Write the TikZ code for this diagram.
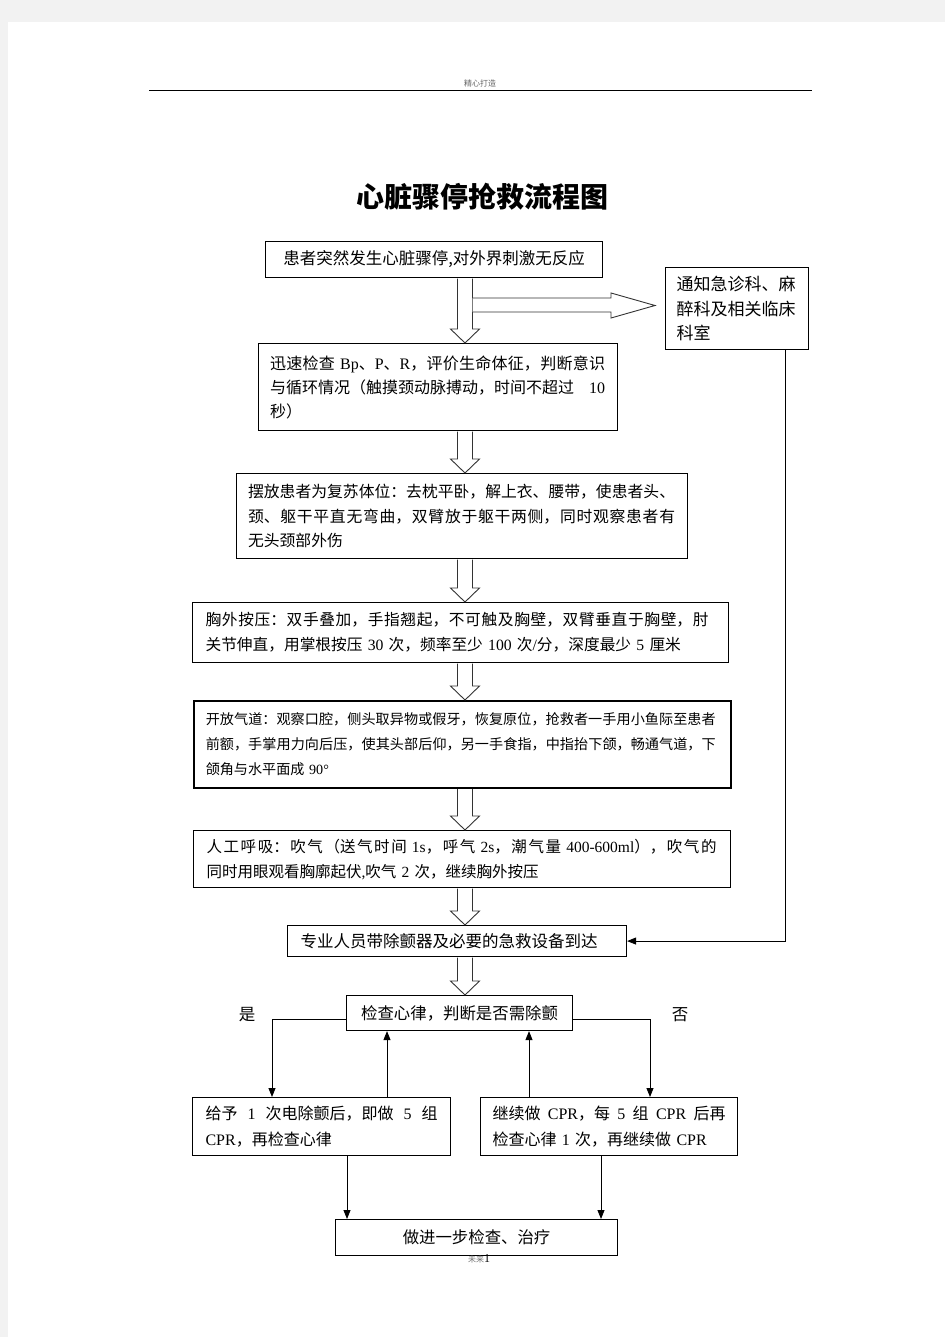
\documentclass[tikz,border=0pt]{standalone}
\usepackage{fontspec}
\setmainfont{Noto Sans CJK SC}
\newfontfamily\tnr{Liberation Serif}
\usetikzlibrary{arrows.meta,calc}
\XeTeXlinebreaklocale "zh"
\XeTeXlinebreakskip=0pt plus 0.3pt
\newcommand\la[1]{{\tnr #1}}
\newcommand\fs{\hskip 0.25em plus 1fil\relax}
\newcommand\jl[2]{\leavevmode\parbox[b]{#1pt}{\leftskip=0pt\rightskip=0pt\parfillskip=0pt\tolerance=10000\emergencystretch=0pt\relax #2}}
\newcommand\hollowarrow[2]{%
  \draw[harrow] let \p1=(#1.south), \p2=(#2.north) in
    (457.5pt,\y1-0.6pt) -- (457.5pt,\y2+14pt) -- (450.5pt,\y2+14pt) -- (465pt,\y2) --
    (479.5pt,\y2+14pt) -- (472.5pt,\y2+14pt) -- (472.5pt,\y1-0.6pt);}
\tikzset{
  box/.style={draw=black, line width=1.1pt, anchor=north west, inner xsep=13pt, inner ysep=0pt, align=left},
  cbox/.style={draw=black, line width=1.1pt, anchor=north west, inner sep=0pt, align=center},
  harrow/.style={draw=black!80, fill=white, line width=0.9pt, line join=miter},
  la/.style={draw=black, line width=0.9pt, -{Triangle[length=9pt,width=7pt]}},
  plain/.style={inner sep=0pt},
}
\begin{document}
\begin{tikzpicture}[x=1pt,y=-1pt]
\useasboundingbox (0,0) rectangle (945,1337);
\fill[black!5] (0,0) rectangle (945,1337);
\fill[white] (8,22) rectangle (945,1337);

% header
\node[plain, font=\fontsize{8}{8}\selectfont, text=black!60] (hd) at (480,83) {精心打造};
\draw[line width=0.9pt] (149,90) -- (812,90);

% title
\node[plain, font=\bfseries\fontsize{28}{28}\selectfont] (T) at (482,197) {心脏骤停抢救流程图};

% boxes
\node[cbox, minimum width=337pt, minimum height=36pt, font=\fontsize{16.5}{24}\selectfont] (A) at (265,241)
  {患者突然发生心脏骤停,对外界刺激无反应};

\node[box, inner xsep=11pt, text width=121pt, minimum height=82pt, line width=1.3pt, font=\fontsize{17}{24.5}\selectfont] (N) at (665,267)
  {通知急诊科、麻\\醉科及相关临床\\科室};

\node[box, inner xsep=11.5pt, text width=336pt, minimum height=87pt, font=\fontsize{16}{24}\selectfont] (B) at (258,343)
  {\jl{335}{迅速检查\la{\ Bp}、\la{P}、\la{R}，评价生命体征，判断意识}\\\jl{335}{与循环情况（触摸颈动脉搏动，时间不超过\la{\fs 10}}\\秒）};

\node[box, inner xsep=11.5pt, text width=428pt, minimum height=85pt, font=\fontsize{15.8}{24.5}\selectfont] (C) at (236,473)
  {\jl{427}{摆放患者为复苏体位：去枕平卧，解上衣、腰带，使患者头、}\\\jl{427}{颈、躯干平直无弯曲，双臂放于躯干两侧，同时观察患者有}\\无头颈部外伤};

\node[box, inner xsep=13pt, text width=510pt, minimum height=60pt, font=\fontsize{15.7}{25}\selectfont] (D) at (192,602)
  {\jl{503}{胸外按压：双手叠加，手指翘起，不可触及胸壁，双臂垂直于胸壁，肘}\\关节伸直，用掌根按压\la{\ 30\ }次，频率至少\la{\ 100\ }次\la{/}分，深度最少\la{\ 5\ }厘米};

\node[box, inner xsep=12pt, text width=513pt, minimum height=87pt, line width=1.5pt, font=\fontsize{14.1}{25}\selectfont] (E) at (193,700)
  {\jl{510}{开放气道：观察口腔，侧头取异物或假牙，恢复原位，抢救者一手用小鱼际至患者}\\\jl{510}{前额，手掌用力向后压，使其头部后仰，另一手食指，中指抬下颌，畅通气道，下}\\颌角与水平面成\la{\ 90°}};

\node[box, inner xsep=13pt, text width=511pt, minimum height=57pt, font=\fontsize{15.5}{25}\selectfont] (F) at (193,830)
  {\jl{510}{人工呼吸：吹气（送气时间\la{\ 1s}，呼气\la{\ 2s}，潮气量\la{\ 400-600ml}），吹气的}\\同时用眼观看胸廓起伏\la{,}吹气\la{\ 2\ }次，继续胸外按压};

\node[box, inner xsep=13pt, text width=313pt, minimum height=31pt, font=\fontsize{16.5}{24}\selectfont] (G) at (287,925)
  {专业人员带除颤器及必要的急救设备到达};

\node[cbox, minimum width=226pt, minimum height=35pt, font=\fontsize{16.4}{24}\selectfont] (H) at (346,995)
  {检查心律，判断是否需除颤};

\node[box, inner xsep=13pt, text width=232pt, minimum height=58pt, font=\fontsize{16}{26}\selectfont] (I) at (192,1097)
  {\jl{232}{给予\la{\fs 1\fs}次电除颤后，即做\la{\fs 5\fs}组}\\\la{CPR}，再检查心律};

\node[box, inner xsep=12pt, text width=233pt, minimum height=58pt, font=\fontsize{16}{26}\selectfont] (J) at (480,1097)
  {\jl{233}{继续做\la{\fs CPR}，每\la{\fs 5\fs}组\la{\fs CPR\fs}后再}\\检查心律\la{\ 1\ }次，再继续做\la{\ CPR}};

\node[cbox, minimum width=282pt, minimum height=36pt, font=\fontsize{16.4}{24}\selectfont] (K) at (335,1219)
  {做进一步检查、治疗};

% labels
\node[plain, font=\fontsize{16.5}{16}\selectfont] (yes) at (247,1015) {是};
\node[plain, font=\fontsize{16.5}{16}\selectfont] (no) at (680,1015) {否};

% footer
\node[plain] (ft) at (479,1259) {\textcolor{black!55}{\fontsize{8}{8}\selectfont 未来}\la{\fontsize{12}{12}\selectfont 1}};

% hollow arrows
\hollowarrow{A}{B}
\hollowarrow{B}{C}
\hollowarrow{C}{D}
\hollowarrow{D}{E}
\hollowarrow{E}{F}
\hollowarrow{F}{G}
\hollowarrow{G}{H}
\draw[harrow] let \p1=(N.west) in
  (472.5pt,-298pt) -- (\x1-54pt,-298pt) -- (\x1-54pt,-293pt) -- (\x1-10pt,-305.5pt) --
  (\x1-54pt,-318pt) -- (\x1-54pt,-312pt) -- (472.5pt,-312pt);

% line arrows
\coordinate (nc) at (785,940);
\draw[la] (N.south -| nc) |- (G.east);
\draw[la] ([yshift=-6pt]H.west) -| (I.north -| 272,0);
\draw[la] (I.north -| 387,0) -- (H.south -| 387,0);
\draw[la] (J.north -| 529,0) -- (H.south -| 529,0);
\draw[la] ([yshift=-6pt]H.east) -| (J.north -| 650,0);
\draw[la] (I.south -| 347,0) -- (K.north -| 347,0);
\draw[la] (J.south -| 601,0) -- (K.north -| 601,0);
\end{tikzpicture}
\end{document}
